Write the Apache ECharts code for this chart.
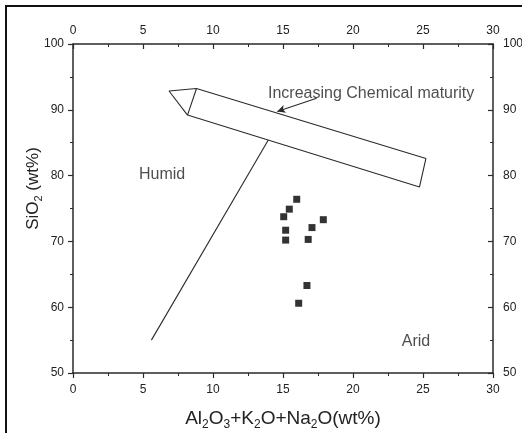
<!DOCTYPE html>
<html>
<head>
<meta charset="utf-8">
<script src="https://cdn.jsdelivr.net/npm/echarts@6/dist/echarts.min.js"></script>
<style>
  html, body { margin: 0; padding: 0; background: #fff; }
  #chart { width: 522px; height: 433px; }
</style>
</head>
<body>
<div id="chart"></div>
<script>
// sample points (Al2O3+K2O+Na2O, SiO2)
const sampleX = [15.98, 15.45, 15.05, 17.88, 15.19, 17.07, 15.19, 16.8, 16.71, 16.12];
const sampleY = [76.4, 74.9, 73.75, 73.3, 71.7, 72.1, 70.2, 70.3, 63.3, 60.6];

// big arrow outline: lower corner, upper corner, tip, lower corner, lower end, upper end, upper corner
const arrowX = [8.18, 8.82, 6.86, 8.18, 24.75, 25.21, 8.82];
const arrowY = [89.2, 93.24, 92.86, 89.2, 78.28, 82.6, 93.24];

// humid/arid divide line
const divideX = [5.6, 13.95];
const divideY = [55.0, 85.4];

// little pointer from the label to the arrow
const pointerFrom = [17.4, 91.75];
const pointerTo = [14.59, 89.75];

const labelTexts = ["Increasing Chemical maturity", "Humid", "Arid"];
const labelX = [13.93, 6.36, 24.5];
const labelY = [92.5, 80.1, 54.7];

const xTicks = [0, 30, 5];
const yTicks = [50, 100, 10];

const FONT = "Liberation Sans";
const INK = "#222";

const zip = (xs, ys) => xs.map((x, i) => [x, ys[i]]);

function axisBase(ticks, inside) {
  return {
    min: ticks[0],
    max: ticks[1],
    interval: ticks[2],
    type: "value",
    nameMoveOverlap: false,
    axisLine: { show: true, onZero: false, lineStyle: { color: "#2a2a2a", width: 1.5 } },
    axisTick: { show: true, inside: inside, length: 5, lineStyle: { color: "#2a2a2a", width: 1.2 } },
    minorTick: { show: true, splitNumber: 2, length: 3, lineStyle: { color: "#2a2a2a", width: 1 } },
    splitLine: { show: false },
    axisLabel: { color: INK, fontFamily: FONT, fontSize: 12, margin: 9 },
  };
}

function renderChart(myChart) {
  let option;

  option = {
    animation: false,
    backgroundColor: "#fff",
    grid: { left: 73, right: 29, top: 44, bottom: 60, outerBoundsMode: "none" },
    graphic: [
      {
        type: "rect",
        shape: { x: 6, y: 6, width: 530, height: 440 },
        style: { fill: null, stroke: "#111", lineWidth: 2 },
      },
    ],
    xAxis: [
      {
        ...axisBase(xTicks, false),
        position: "bottom",
        axisLabel: { color: INK, fontFamily: FONT, fontSize: 12, margin: 11 },
        name: "{n|Al}{s|2}{n|O}{s|3}{n|+K}{s|2}{n|O+Na}{s|2}{n|O(wt%)}",
        nameLocation: "middle",
        nameGap: 35,
        nameTextStyle: {
          rich: {
            n: { fontFamily: FONT, fontSize: 19, color: INK, lineHeight: 22 },
            s: { fontFamily: FONT, fontSize: 12, color: INK, lineHeight: 12, padding: [12, 0, 0, 0] },
          },
        },
      },
      {
        ...axisBase(xTicks, true),
        position: "top",
        axisLabel: { color: INK, fontFamily: FONT, fontSize: 12, margin: 7 },
      },
    ],
    yAxis: [
      {
        ...axisBase(yTicks, false),
        position: "left",
        name: "{n|SiO}{s|2}{n| (wt%)}",
        nameLocation: "middle",
        nameGap: 30,
        nameTextStyle: {
          padding: [0, 0, 0, 40],
          rich: {
            n: { fontFamily: FONT, fontSize: 17, color: INK, lineHeight: 20 },
            s: { fontFamily: FONT, fontSize: 11, color: INK, lineHeight: 11, padding: [11, 0, 0, 0] },
          },
        },
      },
      {
        ...axisBase(yTicks, true),
        position: "right",
        axisLabel: { color: INK, fontFamily: FONT, fontSize: 12, margin: 10 },
      },
    ],
    series: [
      {
        type: "line",
        data: zip(arrowX, arrowY),
        symbol: "none",
        lineStyle: { color: "#2a2a2a", width: 1.1 },
        silent: true,
      },
      {
        type: "line",
        data: zip(divideX, divideY),
        symbol: "none",
        lineStyle: { color: "#2a2a2a", width: 1.1 },
        silent: true,
        markLine: {
          silent: true,
          symbol: ["none", "arrow"],
          symbolSize: [6, 8],
          label: { show: false },
          lineStyle: { color: "#2a2a2a", width: 1.1, type: "solid" },
          data: [[{ coord: pointerFrom }, { coord: pointerTo }]],
        },
      },
      {
        type: "scatter",
        data: zip(sampleX, sampleY),
        symbol: "rect",
        symbolSize: 7,
        itemStyle: { color: "#000" },
      },
      {
        type: "scatter",
        data: labelTexts.map((t, i) => ({ value: [labelX[i], labelY[i]], name: t })),
        symbolSize: 0,
        silent: true,
        label: {
          show: true,
          position: "inside",
          formatter: (p) => p.name,
          fontFamily: FONT,
          fontSize: 16,
          color: INK,
          align: "center",
        },
      },
    ],
  };

  // the maturity label starts at its point rather than centring on it
  option.series[3].data[0].label = { align: "left" };

  option && myChart.setOption(option);
}

let chartDom = document.getElementById("chart");
let myChart = echarts.init(chartDom, null, { renderer: "canvas" });
renderChart(myChart);
</script>
</body>
</html>
